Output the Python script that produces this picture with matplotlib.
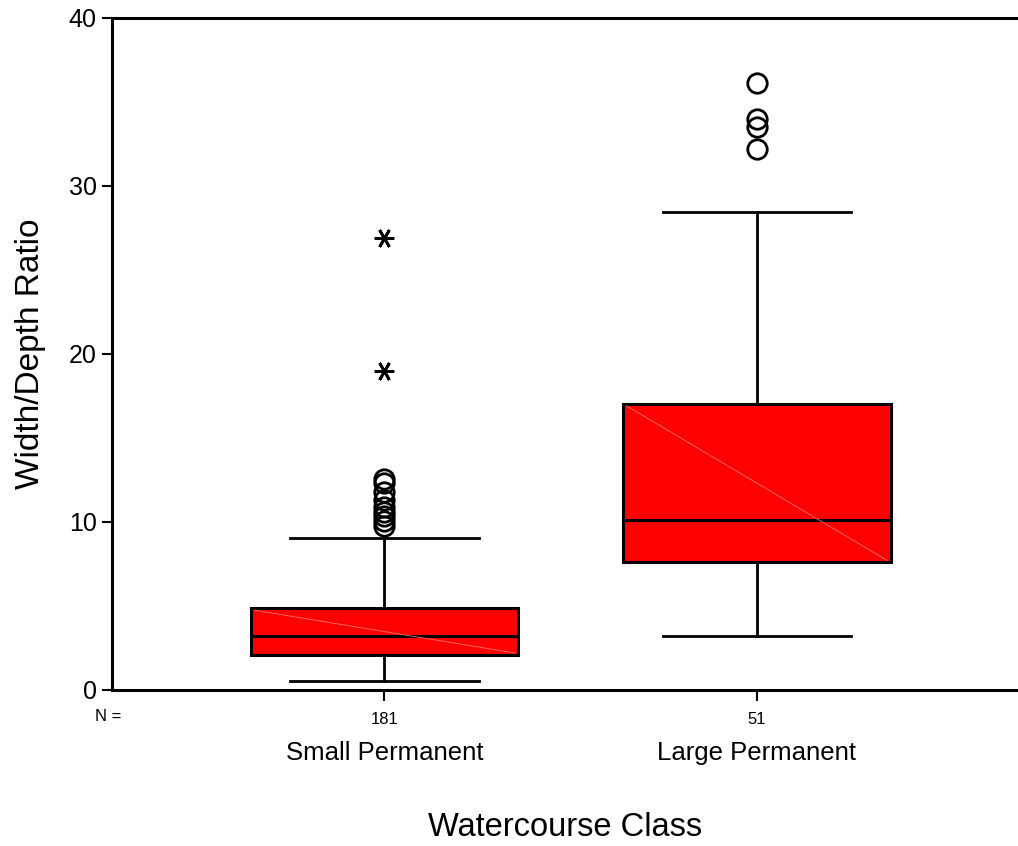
import matplotlib
matplotlib.use('Agg')
import matplotlib.pyplot as plt
import numpy as np

plt.rcParams['font.family'] = ['Liberation Sans', 'DejaVu Sans']

# Data
categories = ["Small Permanent", "Large Permanent"]
n_counts = [181, 51]
whisker_low = [0.55, 3.2]
q1 = [2.1, 7.6]
median = [3.2, 10.1]
q3 = [4.85, 17.0]
whisker_high = [9.05, 28.45]
outliers = [
    [12.55, 12.3, 11.75, 11.3, 10.9, 10.6, 10.35, 10.05, 9.75],
    [36.1, 33.95, 33.5, 32.2],
]
extremes = [[26.9, 18.95], []]

positions = [1, 2]

fig = plt.figure(figsize=(10.18, 8.46), dpi=100)
ax = fig.add_axes((0.110, 0.1844, 0.890, 0.7949))

stats = []
for i in range(len(categories)):
    stats.append(dict(med=median[i], q1=q1[i], q3=q3[i],
                      whislo=whisker_low[i], whishi=whisker_high[i],
                      fliers=outliers[i], label=categories[i]))

ax.bxp(stats, positions=positions, widths=0.717, capwidths=0.505,
       patch_artist=True, manage_ticks=False,
       boxprops=dict(facecolor='#ff0000', edgecolor='black', linewidth=2.2),
       medianprops=dict(color='black', linewidth=2.2),
       whiskerprops=dict(color='black', linewidth=2.0),
       capprops=dict(color='black', linewidth=2.0),
       flierprops=dict(marker='o', markersize=14, markerfacecolor='none',
                       markeredgecolor='black', markeredgewidth=2.0))

# faint diagonal across each box
for i, p in enumerate(positions):
    ax.plot([p - 0.35, p + 0.35], [q3[i] - 0.1, q1[i] + 0.1],
            color='#ff7070', linewidth=0.6, zorder=2.5)

# extreme values drawn as asterisks
for i, p in enumerate(positions):
    if extremes[i]:
        ax.plot([p] * len(extremes[i]), extremes[i], linestyle='none',
                marker=(6, 2, 30), markersize=14, markeredgewidth=2.0,
                color='black', zorder=4)

ax.set_xlim(0.2685, 2.7007)
ax.set_ylim(0, 40)
ax.set_yticks([0, 10, 20, 30, 40])
ax.tick_params(axis='y', direction='out', length=7, width=1.5,
               labelsize=18, pad=4)
ax.set_xticks(positions)
ax.set_xticklabels([str(n) for n in n_counts])
ax.tick_params(axis='x', direction='out', length=8, width=1.5,
               labelsize=12, pad=8)

for side in ['left', 'bottom', 'top']:
    ax.spines[side].set_linewidth(2.2)
ax.spines['right'].set_visible(False)

# "N =" marker and category names under the axis
ax.text(-0.004, -0.040, "N =", transform=ax.transAxes, ha='center', va='center',
        fontsize=12)
for i, p in enumerate(positions):
    ax.text(p, -0.094, categories[i], transform=ax.get_xaxis_transform(),
            ha='center', va='center', fontsize=18.5)

ax.set_xlabel("Watercourse Class", fontsize=23.5, labelpad=61)
ax.set_ylabel("Width/Depth Ratio", fontsize=24, labelpad=16)

fig.savefig('out.png', dpi=100)
